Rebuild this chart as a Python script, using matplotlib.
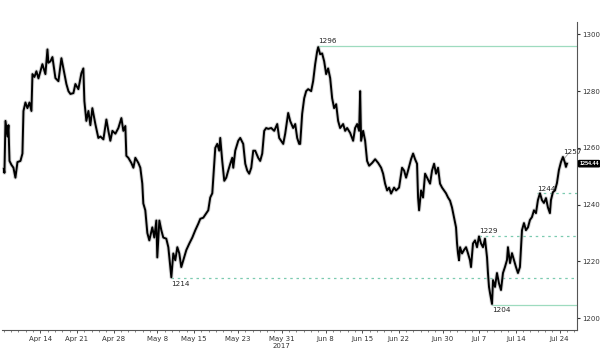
import pandas as pd
import matplotlib
matplotlib.use("Agg")
import matplotlib.pyplot as plt

# tempo em dias uteis desde 7 abr 2017, preco do ouro
t = [0.0, 0.08, 0.22, 0.5, 0.63, 0.77, 1.04, 1.31, 1.58, 1.86, 2.27, 2.54, 2.68, 2.95, 3.22, 3.5,
     3.77, 3.91, 4.18, 4.45, 4.73, 5.0, 5.27, 5.68, 5.96, 6.09, 6.37, 6.64, 7.05, 7.46, 7.87,
     8.14, 8.55, 8.83, 9.1, 9.51, 9.78, 10.19, 10.6, 10.87, 11.01, 11.28, 11.56, 11.83, 12.1,
     12.51, 12.92, 13.2, 13.61, 14.02, 14.29, 14.56, 14.84, 15.25, 15.66, 16.07, 16.34, 16.61,
     16.75, 17.02, 17.43, 17.71, 17.98, 18.39, 18.66, 18.93, 19.07, 19.34, 19.62, 19.89, 20.3,
     20.57, 20.85, 20.98, 21.26, 21.53, 21.8, 22.21, 22.49, 22.76, 22.9, 23.17, 23.44, 23.72,
     23.99, 24.26, 24.54, 24.95, 25.36, 25.77, 26.18, 26.59, 26.86, 27.27, 27.68, 27.95, 28.22,
     28.5, 28.77, 28.91, 29.18, 29.45, 29.59, 29.86, 30.14, 30.41, 30.68, 30.96, 31.23, 31.37,
     31.64, 32.05, 32.32, 32.73, 33.01, 33.28, 33.55, 33.83, 34.1, 34.37, 34.78, 35.05, 35.33,
     35.6, 35.87, 36.15, 36.56, 36.97, 37.38, 37.65, 37.92, 38.2, 38.47, 38.88, 39.15, 39.56,
     39.84, 40.11, 40.38, 40.52, 40.79, 41.07, 41.34, 41.61, 42.02, 42.29, 42.57, 42.84, 42.98,
     43.25, 43.52, 43.8, 44.07, 44.34, 44.62, 44.89, 45.16, 45.44, 45.71, 45.98, 46.39, 46.67,
     46.94, 47.35, 47.76, 48.03, 48.31, 48.58, 48.72, 48.85, 49.13, 49.4, 49.67, 49.95, 50.36,
     50.77, 51.18, 51.59, 51.86, 52.13, 52.41, 52.68, 52.95, 53.36, 53.63, 54.04, 54.45, 54.73,
     55.0, 55.27, 55.68, 55.96, 56.23, 56.5, 56.64, 56.78, 57.05, 57.32, 57.6, 57.87, 58.28,
     58.55, 58.83, 59.1, 59.37, 59.64, 59.92, 60.19, 60.46, 60.74, 61.01, 61.28, 61.56, 61.83,
     61.97, 62.1, 62.24, 62.38, 62.65, 62.92, 63.2, 63.47, 63.74, 63.88, 64.15, 64.43, 64.7,
     64.97, 65.25, 65.52, 65.79, 66.07, 66.2, 66.34, 66.48, 66.75, 66.89, 67.16, 67.43, 67.7,
     67.98, 68.25, 68.52, 68.8, 68.93, 69.21, 69.48, 69.75, 70.03, 70.3, 70.57, 70.85, 71.12,
     71.39, 71.67, 71.94, 72.21, 72.49, 72.76, 73.03, 73.31, 73.58, 73.85, 74.13, 74.4, 74.67,
     74.81, 75.08, 75.36, 75.63, 75.9, 76.18, 76.45, 76.73, 76.86, 77.0]
preco = [1252.6, 1251.2, 1269.5, 1264, 1268, 1255.4, 1254, 1253, 1249.5, 1255, 1255.4, 1258, 1273,
         1276, 1274, 1276, 1273, 1286, 1285, 1287, 1284.5, 1287, 1289.5, 1286, 1294.7, 1290,
         1290.5, 1292, 1284.6, 1283.5, 1291.6, 1288, 1282.5, 1280, 1279, 1279.3, 1282.5, 1280.7,
         1286.3, 1288, 1276.5, 1269.5, 1273, 1268, 1274, 1268.4, 1263.5, 1264, 1263, 1270, 1266,
         1262.5, 1266, 1265, 1267, 1270.5, 1266, 1267.7, 1257.2, 1256.5, 1254.7, 1253, 1256.5,
         1254.7, 1253, 1247.4, 1240.4, 1238, 1230, 1227.4, 1232, 1228.4, 1234.4, 1221.4, 1234.4,
         1231, 1228.4, 1228, 1225, 1218, 1214.4, 1222.8, 1220.4, 1225, 1222.8, 1218, 1220.4, 1224,
         1226.3, 1228.4, 1231, 1233.3, 1235, 1235.4, 1237, 1238, 1242.5, 1244, 1254.4, 1260,
         1261.4, 1259, 1263.5, 1255.4, 1248.4, 1249.5, 1252, 1254.4, 1256.5, 1253, 1259, 1262.5,
         1263.5, 1261.4, 1254.4, 1252, 1250.9, 1253, 1259, 1259, 1256.5, 1255.4, 1258, 1266, 1267,
         1266.7, 1267, 1266, 1268.4, 1263.5, 1262.5, 1261.4, 1265, 1272.3, 1269.5, 1267, 1268.4,
         1263.5, 1261.4, 1261.4, 1272, 1277.5, 1280, 1280.7, 1280, 1283.5, 1289.5, 1294, 1295.5,
         1293, 1293.3, 1290.5, 1286, 1288, 1284.6, 1277.5, 1274, 1275.4, 1269.5, 1267, 1268.4,
         1266, 1267, 1265.3, 1262.5, 1267, 1268.4, 1266, 1280, 1262.5, 1266, 1262.5, 1255.4,
         1253.7, 1254.7, 1256, 1254.7, 1253, 1250.9, 1247.4, 1245, 1246, 1243.9, 1246, 1245, 1246,
         1253, 1252, 1249.5, 1252, 1256, 1258, 1256, 1254.4, 1242.5, 1238, 1245, 1242.5, 1250.9,
         1249.5, 1247.4, 1252, 1254.4, 1250.9, 1253, 1247.4, 1246, 1245, 1244, 1242.5, 1241.4,
         1239, 1235.4, 1232, 1226.3, 1222.8, 1220.4, 1225, 1222.8, 1224, 1225, 1222.8, 1220.4,
         1218, 1226.3, 1227.4, 1225, 1228.8, 1226.3, 1225, 1228, 1221.4, 1215.8, 1211, 1208.8,
         1205, 1213.4, 1211, 1215.9, 1212.3, 1209.9, 1215.9, 1218, 1220.5, 1225, 1219.4, 1222.9,
         1220.5, 1218, 1215.9, 1218, 1231, 1233.5, 1231, 1232, 1234.6, 1235.6, 1238, 1237,
         1241.6, 1244, 1241.6, 1240.6, 1242.3, 1239, 1237, 1241.6, 1244.4, 1245, 1247.6, 1252.2,
         1255, 1256.8, 1254.7, 1253.3, 1254.44]

# niveis marcados: valor, rotulo, dia de inicio, estilo
niveis = [1296, 1214, 1229, 1204.8, 1244]
niveis_rotulo = ['1296', '1214', '1229', '1204', '1244']
niveis_inicio = [42.98, 22.9, 64.97, 66.75, 72.9]
niveis_tracejado = [False, True, True, False, True]
niveis_acima = [True, False, True, False, True]

maxima_recente = 1257
ultimo_preco = 1254.44

datas_rotulo = ['2017-04-14', '2017-04-21', '2017-04-28', '2017-05-08', '2017-05-15',
                '2017-05-23', '2017-05-31', '2017-06-08', '2017-06-15', '2017-06-22',
                '2017-06-30', '2017-07-07', '2017-07-14', '2017-07-24']
rotulos_x = ['Apr 14', 'Apr 21', 'Apr 28', 'May 8', 'May 15', 'May 23', 'May 31\n2017',
             'Jun 8', 'Jun 15', 'Jun 22', 'Jun 30', 'Jul 7', 'Jul 14', 'Jul 24']
ticks_y = [1200, 1220, 1240, 1260, 1280, 1300]

dias = pd.bdate_range('2017-04-07', '2017-07-28')
pos_ticks = [dias.get_loc(pd.Timestamp(d)) for d in datas_rotulo]

fig = plt.figure(figsize=(6, 3.53), dpi=100)
ax = fig.add_axes([0.004, 0.065, 0.958, 0.873])

verde = '#9edbbf'
verde_tr = '#7ccbb0'
x_fim = 78.4
for nv, rot, ini, tr, acima in zip(niveis, niveis_rotulo, niveis_inicio, niveis_tracejado, niveis_acima):
    ax.plot([ini, x_fim], [nv, nv], color=verde_tr if tr else verde,
            lw=0.9, ls=(0, (2, 3)) if tr else '-', zorder=1)
    ax.text(ini, nv + (0.6 if acima else -0.8), rot, fontsize=5.2,
            ha='left', va='bottom' if acima else 'top', color='#222222')

ax.plot(t, preco, color='#aaaaaa', lw=2.8, alpha=0.5, zorder=2)
ax.plot(t, preco, color='black', lw=1.4, zorder=3)

ax.plot([76.45, 77.3], [maxima_recente - 1.3, maxima_recente + 1.3], color='#888888', lw=0.5)
ax.text(76.5, maxima_recente + 0.6, str(maxima_recente), fontsize=5.2, ha='left', va='bottom', color='#222222')

ax.set_xlim(-0.2, x_fim)
ax.set_ylim(1195.8, 1304.4)

ax.spines['top'].set_visible(False)
ax.spines['left'].set_visible(False)
for lado in ['right', 'bottom']:
    ax.spines[lado].set_color('#555555')
    ax.spines[lado].set_linewidth(0.8)

ax.yaxis.tick_right()
ax.set_yticks(ticks_y)
ax.set_yticklabels([str(v) for v in ticks_y])
ax.tick_params(axis='y', length=2, width=0.8, pad=1.5, labelsize=5, colors='#333333')

ax.set_xticks(pos_ticks)
ax.set_xticklabels(rotulos_x)
ax.set_xticks(range(0, 79), minor=True)
ax.tick_params(axis='x', which='major', length=2.5, width=0.6, pad=2, labelsize=5, colors='#333333')
ax.tick_params(axis='x', which='minor', length=1.5, width=0.5, colors='#555555')

ax.annotate(f'{ultimo_preco:.2f}', xy=(1.0, ultimo_preco), xycoords=('axes fraction', 'data'),
            xytext=(1.5, 0), textcoords='offset points', fontsize=3.9, color='white',
            family='Liberation Sans', fontweight='bold',
            ha='left', va='center', annotation_clip=False,
            bbox=dict(boxstyle='round,pad=0.12', fc='black', ec='black'))

fig.savefig('out.png', dpi=100)
